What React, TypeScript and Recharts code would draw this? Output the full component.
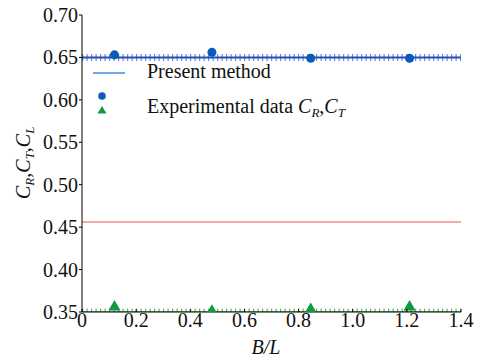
import React from 'react';
import { ComposedChart, Line, Scatter, XAxis, YAxis } from 'recharts';

// B/L range of the computed (present method) curves
const lineX = [0, 1.4];
const presentCR = [0.65, 0.65];
const presentCL = [0.456, 0.456];
const presentCT = [0.35, 0.35];

// Experimental data
const expX = [0.12, 0.48, 0.845, 1.21];
const expCR = [0.653, 0.656, 0.649, 0.649];
const expCT = [0.356, 0.351, 0.353, 0.356];

const xTicks = [0, 0.2, 0.4, 0.6, 0.8, 1.0, 1.2, 1.4];
const yTicks = [0.35, 0.4, 0.45, 0.5, 0.55, 0.6, 0.65, 0.7];

const crLine = lineX.map((x, i) => ({ x, y: presentCR[i] }));
const clLine = lineX.map((x, i) => ({ x, y: presentCL[i] }));
const ctLine = lineX.map((x, i) => ({ x, y: presentCT[i] }));
const crExp = expX.map((x, i) => ({ x, y: expCR[i] }));
const ctExp = expX.map((x, i) => ({ x, y: expCT[i] }));

const FONT = '"Liberation Serif", "Times New Roman", serif';
const textStyle = { fontFamily: FONT, fontSize: 20, fill: '#111' };

const renderXTick = (props: any) => {
  const { x, y, payload } = props;
  const v = payload.value as number;
  const label = v === 0 ? '0' : v.toFixed(1);
  return (
    <g key={`xt-${v}`}>
      <line x1={x} x2={x} y1={y} y2={y - 3} stroke="#000" strokeWidth={1} />
      <text x={x} y={y + 14.5} textAnchor="middle" style={textStyle}>
        {label}
      </text>
    </g>
  );
};

const renderYTick = (props: any) => {
  const { x, y, payload } = props;
  const v = payload.value as number;
  return (
    <text key={`yt-${v}`} x={x} y={y + 7} textAnchor="end" style={textStyle}>
      {v.toFixed(2)}
    </text>
  );
};

export default function App() {
  return (
    <div style={{ position: 'absolute', left: 0, top: 0, width: 486, height: 358, background: '#fff' }}>
      <ComposedChart
        width={486}
        height={358}
        margin={{ top: 15, right: 25, bottom: 0, left: 0 }}
      >
        <XAxis
          type="number"
          dataKey="x"
          domain={[0, 1.4]}
          ticks={xTicks}
          allowDataOverflow
          tickSize={0}
          tickMargin={0}
          tickLine={false}
          tick={renderXTick}
          axisLine={{ stroke: '#000', strokeWidth: 1 }}
          height={46}
          interval={0}
        />
        <YAxis
          type="number"
          dataKey="y"
          domain={[0.35, 0.7]}
          ticks={yTicks}
          allowDataOverflow
          width={82}
          tickSize={3}
          tickMargin={1}
          tickLine={{ stroke: '#000' }}
          axisLine={{ stroke: '#000', strokeWidth: 1 }}
          tick={renderYTick}
          interval={0}
        />
        {/* C_L present method */}
        <Line data={clLine} dataKey="y" stroke="#f28a8f" strokeWidth={1.6} dot={false} isAnimationActive={false} />
        {/* C_T present method: line with dense markers */}
        <Line data={ctLine} dataKey="y" stroke="#62bd62" strokeWidth={7} strokeDasharray="1.2 3.3" dot={false} isAnimationActive={false} />
        <Line data={ctLine} dataKey="y" stroke="#1d6b2a" strokeWidth={1.2} dot={false} isAnimationActive={false} />
        {/* C_R present method: line with dense markers */}
        <Line data={crLine} dataKey="y" stroke="#6c8be0" strokeWidth={7} strokeDasharray="1.2 3.3" dot={false} isAnimationActive={false} />
        <Line data={crLine} dataKey="y" stroke="#2a4db3" strokeWidth={2} dot={false} isAnimationActive={false} />
        {/* Experimental */}
        <Scatter data={crExp} dataKey="y" fill="#0b5bb8" shape="circle" isAnimationActive={false} size={45} />
        <Scatter data={ctExp} dataKey="y" fill="#0e9a3e" shape="triangle" isAnimationActive={false} size={40} />
      </ComposedChart>
      <svg
        width={486}
        height={358}
        style={{ position: 'absolute', left: 0, top: 0, pointerEvents: 'none' }}
      >
        {/* Legend */}
        <line x1={93} x2={125} y1={73} y2={73} stroke="#3d8fd6" strokeWidth={1.5} />
        <text x={147} y={78} style={textStyle}>Present method</text>
        <circle cx={102} cy={96} r={3.8} fill="#0b5bb8" />
        <polygon points="102,106 106.5,113.5 97.5,113.5" fill="#0e9a3e" />
        <text x={147} y={113} style={textStyle}>
          Experimental data <tspan fontStyle="italic">C</tspan>
          <tspan fontStyle="italic" fontSize={13} dy={4}>R</tspan>
          <tspan dy={-4}>,</tspan>
          <tspan fontStyle="italic">C</tspan>
          <tspan fontStyle="italic" fontSize={13} dy={4}>T</tspan>
        </text>
        {/* Y axis label */}
        <text transform="translate(30,199) rotate(-90)" textAnchor="start" style={textStyle}>
          <tspan fontStyle="italic">C</tspan>
          <tspan fontStyle="italic" fontSize={13} dy={4}>R</tspan>
          <tspan dy={-4}>,</tspan>
          <tspan fontStyle="italic">C</tspan>
          <tspan fontStyle="italic" fontSize={13} dy={4}>T</tspan>
          <tspan dy={-4}>,</tspan>
          <tspan fontStyle="italic">C</tspan>
          <tspan fontStyle="italic" fontSize={13} dy={4}>L</tspan>
        </text>
        {/* X axis label */}
        <text x={266} y={354} textAnchor="middle" style={{ ...textStyle, fontStyle: 'italic' }}>
          B/L
        </text>
      </svg>
    </div>
  );
}
